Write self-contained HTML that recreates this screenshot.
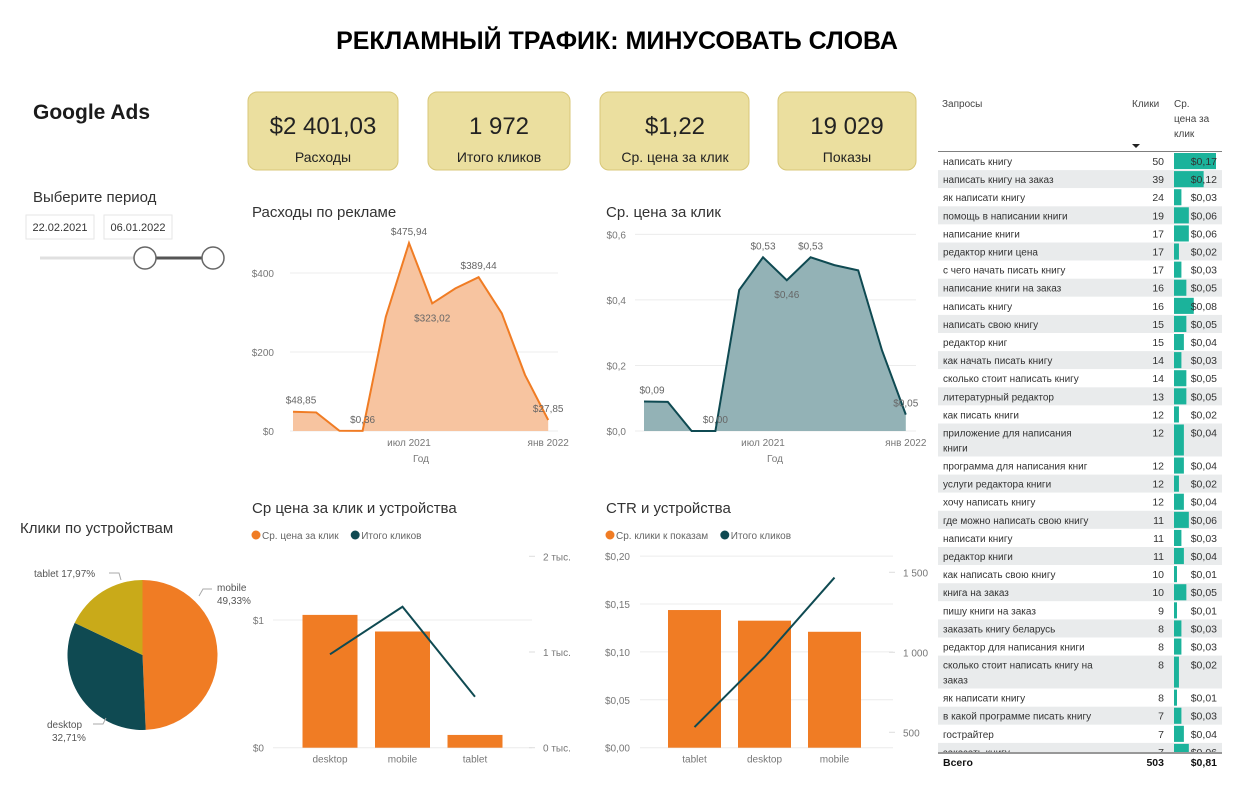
<!DOCTYPE html>
<html><head><meta charset="utf-8">
<style>
body{margin:0;background:#fff;width:1237px;height:788px;overflow:hidden;font-family:"Liberation Sans","DejaVu Sans",sans-serif;}
svg text{font-family:"Liberation Sans","DejaVu Sans",sans-serif;}
</style></head>
<body>
<svg id="s" width="1237" height="788" xmlns="http://www.w3.org/2000/svg">
<text x="617" y="49" text-anchor="middle" font-size="25" font-weight="bold" fill="#000">РЕКЛАМНЫЙ ТРАФИК: МИНУСОВАТЬ СЛОВА</text>
<text x="33" y="119" font-size="21" font-weight="bold" fill="#1b1b1b">Google Ads</text>
<g font-size="14" fill="#222">
 <g><rect x="248" y="92" width="150" height="78" rx="9" fill="#ebdf9f" stroke="#d8c778"/><text x="323" y="134" text-anchor="middle" font-size="24" fill="#222">$2 401,03</text><text x="323" y="162" text-anchor="middle" fill="#222">Расходы</text></g>
 <g><rect x="428" y="92" width="142" height="78" rx="9" fill="#ebdf9f" stroke="#d8c778"/><text x="499" y="134" text-anchor="middle" font-size="24" fill="#222">1 972</text><text x="499" y="162" text-anchor="middle" fill="#222">Итого кликов</text></g>
 <g><rect x="600" y="92" width="149" height="78" rx="9" fill="#ebdf9f" stroke="#d8c778"/><text x="675" y="134" text-anchor="middle" font-size="24" fill="#222">$1,22</text><text x="675" y="162" text-anchor="middle" fill="#222">Ср. цена за клик</text></g>
 <g><rect x="778" y="92" width="138" height="78" rx="9" fill="#ebdf9f" stroke="#d8c778"/><text x="847" y="134" text-anchor="middle" font-size="24" fill="#222">19 029</text><text x="847" y="162" text-anchor="middle" fill="#222">Показы</text></g>
</g>
<text x="33" y="202" font-size="15" fill="#333">Выберите период</text>
<g><rect x="26" y="215" width="68" height="24" fill="#fff" stroke="#e6e6e6"/><text x="60" y="231" text-anchor="middle" font-size="11" fill="#333">22.02.2021</text></g>
<g><rect x="104" y="215" width="68" height="24" fill="#fff" stroke="#e6e6e6"/><text x="138" y="231" text-anchor="middle" font-size="11" fill="#333">06.01.2022</text></g>
<g>
 <line x1="40" y1="258" x2="145" y2="258" stroke="#e0e0e0" stroke-width="3"/>
 <line x1="145" y1="258" x2="213" y2="258" stroke="#555" stroke-width="3"/>
 <circle cx="145" cy="258" r="11" fill="#fff" stroke="#666" stroke-width="1.5"/>
 <circle cx="213" cy="258" r="11" fill="#fff" stroke="#666" stroke-width="1.5"/>
</g>
<text x="252" y="217" font-size="15" fill="#333">Расходы по рекламе</text>
<text x="606" y="217" font-size="15" fill="#333">Ср. цена за клик</text>
<text x="252" y="513" font-size="15" fill="#333">Ср цена за клик и устройства</text>
<text x="606" y="513" font-size="15" fill="#333">CTR и устройства</text>
<text x="20" y="533" font-size="15" fill="#333">Клики по устройствам</text>
<g id="g1"></g><g id="g2"></g><g id="g3"></g><g id="g4"></g><g id="g5"></g><g id="g6"></g>
</svg>
<script>
const months=['фев','мар','апр','май','июн','июл','авг','сен','окт','ноя','дек','янв'];
const spendValues=[48.85,47,0.5,0.36,289,475.94,323.02,361,389.44,298,142,27.85];
const spendLabelIdx=[0,3,5,6,8,11];
const spendTicks=[0,200,400];
const cpcValues=[0.09,0.089,0,0,0.43,0.53,0.46,0.53,0.506,0.49,0.246,0.05];
const cpcLabelIdx=[0,3,5,6,7,11];
const cpcTicks=[0,0.2,0.4,0.6];
const devA=['desktop','mobile','tablet'];
const devACpc=[1.04,0.91,0.10];
const devAClicks=[976,1473,533];
const devATicksL=[0,1];
const devATicksR=[0,1000,2000];
const devB=['tablet','desktop','mobile'];
const devBCtr=[0.1437,0.1326,0.121];
const devBClicks=[533,970,1467];
const devBTicksL=[0,0.05,0.10,0.15,0.20];
const devBTicksR=[500,1000,1500];
const pieLabels=['mobile','desktop','tablet'];
const pieValues=[49.33,32.71,17.97];
const queries=['написать книгу','написать книгу на заказ','як написати книгу','помощь в написании книги','написание книги','редактор книги цена','с чего начать писать книгу','написание книги на заказ','написать книгу','написать свою книгу','редактор книг','как начать писать книгу','сколько стоит написать книгу','литературный редактор','как писать книги','приложение для написания|книги','программа для написания книг','услуги редактора книги','хочу написать книгу','где можно написать свою книгу','написати книгу','редактор книги','как написать свою книгу','книга на заказ','пишу книги на заказ','заказать книгу беларусь','редактор для написания книги','сколько стоит написать книгу на|заказ','як написати книгу','в какой программе писать книгу','гострайтер','заказать книгу'];
const clicks=[50,39,24,19,17,17,17,16,16,15,15,14,14,13,12,12,12,12,12,11,11,11,10,10,9,8,8,8,8,7,7,7];
const qcpc=[0.17,0.12,0.03,0.06,0.06,0.02,0.03,0.05,0.08,0.05,0.04,0.03,0.05,0.05,0.02,0.04,0.04,0.02,0.04,0.06,0.03,0.04,0.01,0.05,0.01,0.03,0.03,0.02,0.01,0.03,0.04,0.06];

const NS='http://www.w3.org/2000/svg';
function mk(p,tag,a,txt){const e=document.createElementNS(NS,tag);for(const k in a)e.setAttribute(k,a[k]);if(txt!==undefined)e.textContent=txt;p.appendChild(e);return e;}
const fmt=(v,d)=>'$'+v.toFixed(d).replace('.',',');
const ORANGE='#f07c24',TEAL='#0f4a52',GRAY='#777';

function area(g,vals,xf,yf,x0,x1,ticks,tfmt,labIdx,ldec,fill,stroke,belowIdx,labX){
 ticks.forEach(t=>{const y=yf(t);
  const gl=mk(g,'line',{x1:x0,x2:x1,y1:y,y2:y,stroke:'#ececec'});
  
  
  const tl=mk(g,'text',{x:labX,y:y+4,'text-anchor':'end','font-size':10,fill:GRAY},tfmt(t));
  
  });
 let d='M'+xf(0)+','+yf(0);vals.forEach((v,i)=>d+='L'+xf(i)+','+yf(v));d+='L'+xf(vals.length-1)+','+yf(0)+'Z';
 const a=mk(g,'path',{d:d,fill:fill});
 
 
 const l=mk(g,'polyline',{points:vals.map((v,i)=>xf(i)+','+yf(v)).join(' '),fill:'none',stroke:stroke,'stroke-width':2});
 
 
 labIdx.forEach(i=>{const below=belowIdx.includes(i);
  const t=mk(g,'text',{x:xf(i)+(i==0?8:0),y:below?yf(vals[i])+18:yf(vals[i])-8,'text-anchor':'middle','font-size':10,fill:'#666'},fmt(vals[i],ldec));
  
  });
 [5,11].forEach(i=>{const t=mk(g,'text',{x:xf(i),y:446,'text-anchor':'middle','font-size':10,fill:GRAY},(i==5?'июл 2021':'янв 2022'));
  
  });
 const xt=mk(g,'text',{x:xf(5)+12,y:462,'text-anchor':'middle','font-size':10,fill:GRAY},'Год');
 
 
}
area(document.getElementById('g1'),spendValues,i=>293+i*23.2,v=>431-v*0.395,290,558,spendTicks,t=>'$'+t,spendLabelIdx,2,'#f7c4a0',ORANGE,[6],274);
area(document.getElementById('g2'),cpcValues,i=>644+i*23.8,v=>431-v*327.8,635,916,cpcTicks,t=>'$'+t.toFixed(1).replace('.',','),cpcLabelIdx,2,'#93b2b6',TEAL,[6],626);

function combo(g,cats,bars,line,xl,yl,yr,tl,tr,tlf,trf,gx0,gx1,lx,rx,barW,legend,lgx){
 tl.forEach(t=>{const y=yl(t);
  const gl=mk(g,'line',{x1:gx0,x2:gx1,y1:y,y2:y,stroke:'#ececec'});
  
  
  const tt=mk(g,'text',{x:lx,y:y+4,'text-anchor':'end','font-size':10,fill:GRAY},tlf(t));
  
  });
 tr.forEach(t=>{const y=yr(t);
  const tt=mk(g,'text',{x:rx,y:y+4,'font-size':10,fill:GRAY},trf(t));
  
  
  const tk=mk(g,'line',{x1:rx-14,x2:rx-8,y1:y,y2:y,stroke:'#ddd'});
  
  });
 cats.forEach((c,i)=>{const y=yl(bars[i]);
  const b=mk(g,'rect',{x:xl(i)-barW/2,y:y,width:barW,height:yl(0)-y,fill:ORANGE});
  
  
  const t=mk(g,'text',{x:xl(i),y:yl(0)+15,'text-anchor':'middle','font-size':10,fill:GRAY},c);
  
  });
 const l=mk(g,'polyline',{points:cats.map((c,i)=>xl(i)+','+yr(line[i])).join(' '),fill:'none',stroke:TEAL,'stroke-width':2});
 
 
 const lg=mk(g,'g',{});
 
 
 mk(lg,'circle',{cx:lgx,cy:535,r:4.5,fill:ORANGE});
 mk(lg,'text',{x:lgx+6,y:539,'font-size':10,fill:'#666'},legend);
 const w=legend.length*5.2+12;
 mk(lg,'circle',{cx:lgx+w+4,cy:535,r:4.5,fill:TEAL});
 mk(lg,'text',{x:lgx+w+10,y:539,'font-size':10,fill:'#666'},'Итого кликов');
}
combo(document.getElementById('g3'),devA,devACpc,devAClicks,i=>330+i*72.5,v=>747.7-v*127.7,v=>747.7-v*0.0957,devATicksL,devATicksR,t=>'$'+t,t=>(t/1000)+' тыс.',273,532,264,543,55,'Ср. цена за клик',256);
combo(document.getElementById('g4'),devB,devBCtr,devBClicks,i=>694.5+i*70,v=>747.7-v*958,v=>732.3-(v-500)*0.16,devBTicksL,devBTicksR,t=>'$'+t.toFixed(2).replace('.',','),t=>t<1000?String(t):Math.floor(t/1000)+' '+String(t%1000).padStart(3,'0'),640,893,630,903,53,'Ср. клики к показам',610);

// pie
(function(){const g=document.getElementById('g5');const cx=142.5,cy=655,r=75;const cols=[ORANGE,TEAL,'#c9aa19'];
 const tot=pieValues.reduce((a,b)=>a+b,0);let a0=-Math.PI/2;
 pieValues.forEach((v,i)=>{const a1=a0+v/tot*2*Math.PI;const big=(a1-a0)>Math.PI?1:0;
  const p=mk(g,'path',{d:`M${cx},${cy}L${cx+r*Math.cos(a0)},${cy+r*Math.sin(a0)}A${r},${r} 0 ${big} 1 ${cx+r*Math.cos(a1)},${cy+r*Math.sin(a1)}Z`,fill:cols[i]});
  
  a0=a1;});
 const lbl=[[217,591,'mobile',0],[47,728,'desktop',1],[34,577,'tablet',2]];
 lbl.forEach(([x,y,n,i])=>{const pct=pieValues[i].toFixed(2).replace('.',',')+'%';
  if(n==='tablet'){const t=mk(g,'text',{x:x,y:y,'font-size':10,fill:'#555'},n+' '+pct);}
  else{const t=mk(g,'text',{x:x,y:y,'font-size':10,fill:'#555'},n);
   const t2=mk(g,'text',{x:x+(n==='desktop'?5:0),y:y+13,'font-size':10,fill:'#555'},pct);}});
 mk(g,'polyline',{points:'109,573 119,573 121,580',fill:'none',stroke:'#aaa'});
 mk(g,'polyline',{points:'212,589 203,589 199,596',fill:'none',stroke:'#aaa'});
 mk(g,'polyline',{points:'93,724 103,724 106,718',fill:'none',stroke:'#aaa'});
})();

// table
(function(){const g=document.getElementById('g6');
 mk(g,'rect',{x:936,y:92,width:290,height:684,fill:'#fff'});
 const h=[['Запросы',942,107],['Клики',1132,107],['Ср.',1174,107],['цена за',1174,122],['клик',1174,137]];
 h.forEach(([t,x,y])=>{const e=mk(g,'text',{x:x,y:y,'font-size':10,fill:'#444'},t);});
 mk(g,'path',{d:'M1132,144 l4,4 l4,-4z',fill:'#222'});
 mk(g,'line',{x1:938,x2:1222,y1:152,y2:152,stroke:'#555','stroke-width':1.5});
 const clip=mk(g,'clipPath',{id:'tc'});mk(clip,'rect',{x:936,y:152,width:290,height:600});
 const body=mk(g,'g',{'clip-path':'url(#tc)'});
 let y=152;
 queries.forEach((q,i)=>{const parts=q.split('|');const two=parts.length>1;const hgt=two?33:18.1;
  const row=mk(body,'g',{});
  
  
  mk(row,'rect',{x:938,y:y,width:284,height:hgt,fill:i%2?'#e9ebec':'#fff'});
  if(two){mk(row,'text',{x:943,y:y+13,'font-size':10,fill:'#333'},parts[0]);mk(row,'text',{x:943,y:y+28,'font-size':10,fill:'#333'},parts[1]);}
  else mk(row,'text',{x:943,y:y+13,'font-size':10,fill:'#333'},q);
  mk(row,'text',{x:1164,y:y+13,'text-anchor':'end','font-size':10.5,fill:'#333'},clicks[i]);
  mk(row,'rect',{x:1174,y:y+1,width:Math.max(3,qcpc[i]/0.17*42),height:hgt-2,fill:'#1bb39b'});
  mk(row,'text',{x:1217,y:y+13,'text-anchor':'end','font-size':10.5,fill:'#333'},fmt(qcpc[i],2));
  y+=hgt;});
 mk(g,'line',{x1:938,x2:1222,y1:753,y2:753,stroke:'#777','stroke-width':1.5});
 const tr=mk(g,'g',{});
 mk(tr,'text',{x:943,y:766,'font-size':10.5,'font-weight':'bold',fill:'#111'},'Всего');
 mk(tr,'text',{x:1164,y:766,'text-anchor':'end','font-size':10.5,'font-weight':'bold',fill:'#111'},'503');
 mk(tr,'text',{x:1217,y:766,'text-anchor':'end','font-size':10.5,'font-weight':'bold',fill:'#111'},'$0,81');
})();
</script>
</body></html>
